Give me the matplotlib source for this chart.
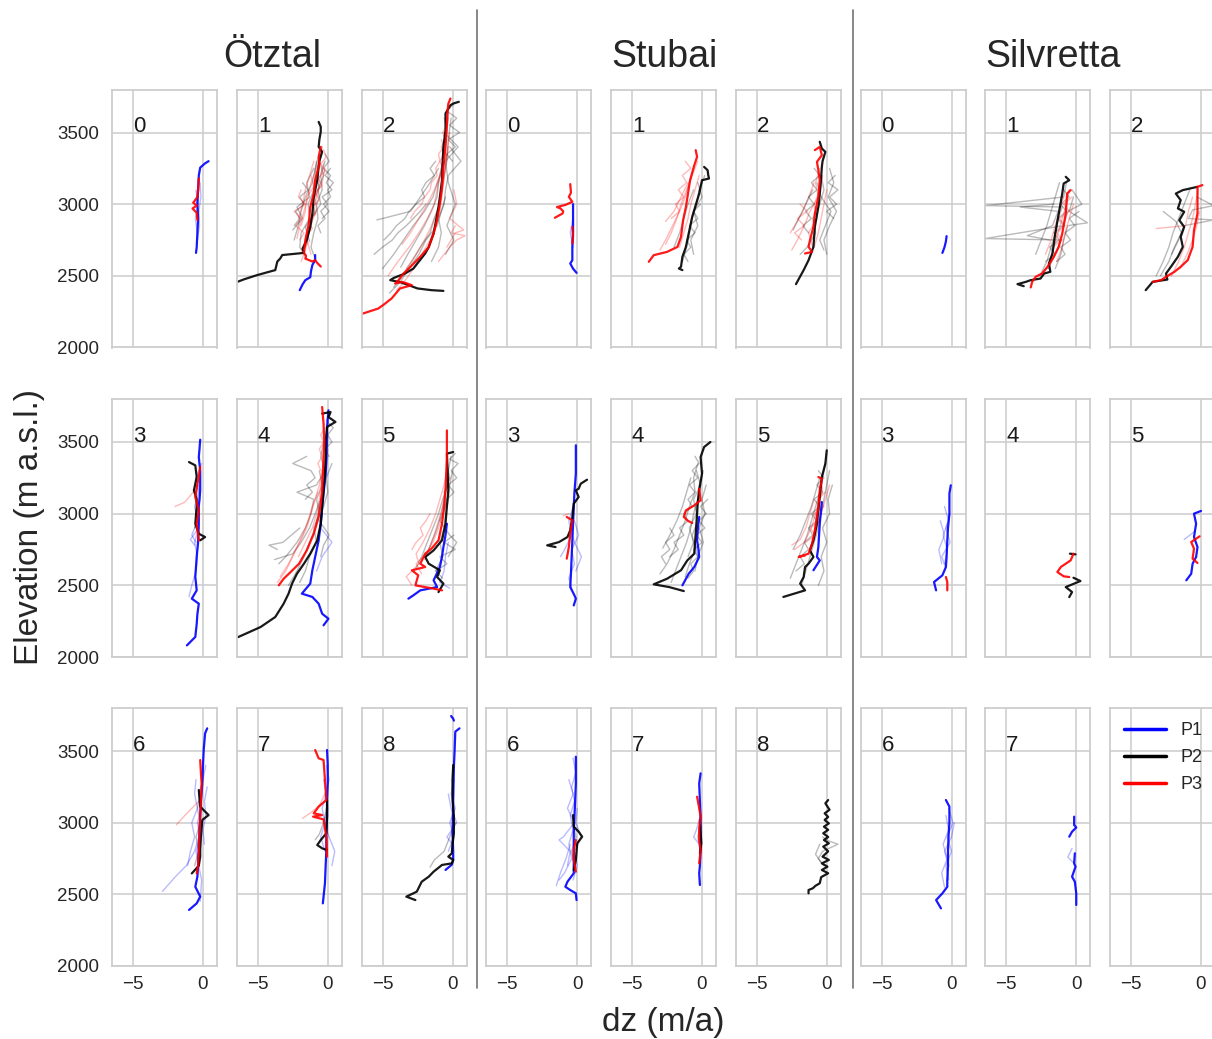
import numpy as np
import matplotlib
matplotlib.use("Agg")
import matplotlib.pyplot as plt
import seaborn as sns
from matplotlib.lines import Line2D

NAN = np.nan

REGIONS = ["Ötztal", "Stubai", "Silvretta"]
PERIODS = ["P1", "P2", "P3"]
PERIOD_COLORS = {"P1": "blue", "P2": "black", "P3": "red"}
Y_TICKS = [2000, 2500, 3000, 3500]
X_TICKS = [-5, 0]

# median profiles per panel: list of (elevation, dz) pairs
OTZTAL_MEDIAN = {
    0: {
        "P1": [(3300, 0.4), (3285, 0.15), (3255, -0.2), (3200, -0.3), (3100, -0.35), (3000, -0.4), (2900, -0.35), (2800, -0.4), (2700, -0.45), (2660, -0.5)],
        "P3": [(3180, -0.3), (3100, -0.35), (3050, -0.4), (3010, -0.7), (2990, -0.45), (2970, -0.75), (2940, -0.45), (2890, -0.4)],
    },
    1: {
        "P1": [(2645, -0.9), (2610, -0.9), (2575, -1.1), (2530, -1.2), (2490, -1.25), (2470, -1.6), (2440, -1.8), (2400, -2.0)],
        "P2": [(3574, -0.65), (3540, -0.5), (3505, -0.5), (3450, -0.6), (3400, -0.65), (3365, -0.4), (3300, -0.6), (3260, -0.65), (3167, -0.75), (3050, -1.0), (2935, -1.1), (2840, -1.25), (2750, -1.5), (2690, -1.8), (2660, -1.7), (2645, -3.25), (2620, -3.4), (2600, -3.6), (2540, -3.75), (2505, -5.05), (2475, -6.0), (2460, -6.4)],
        "P3": [(3400, -0.5), (3330, -0.65), (3280, -0.6), (3167, -0.9), (3075, -1.0), (2980, -1.25), (2865, -1.35), (2750, -1.6), (2660, -1.7), (2640, -1.55), (2620, -1.6), (2600, -1.1), (2610, -0.9), (2590, -0.75), (2565, -0.5)],
    },
    2: {
        "P2": [(3714, 0.45), (3702, 0.05), (3690, -0.15), (3633, -0.5), (3516, -0.5), (3400, -0.65), (3300, -0.7), (3167, -0.75), (3050, -0.9), (2980, -1.0), (2900, -1.15), (2795, -1.35), (2700, -1.7), (2656, -1.95), (2600, -2.4), (2550, -2.8), (2516, -3.4), (2485, -4.2), (2470, -4.45), (2455, -3.7), (2430, -3.0), (2412, -2.5), (2400, -1.5), (2395, -0.65)],
        "P3": [(3737, -0.15), (3700, -0.3), (3650, -0.35), (3563, -0.4), (3400, -0.5), (3260, -0.65), (3120, -0.75), (3005, -0.9), (2890, -1.1), (2795, -1.35), (2700, -1.7), (2633, -2.3), (2563, -3.0), (2516, -3.5), (2470, -3.85), (2446, -4.1), (2458, -3.6), (2435, -2.9), (2412, -3.75), (2342, -4.35), (2300, -4.9), (2272, -5.3), (2237, -6.4)],
    },
    3: {
        "P1": [(3516, -0.2), (3450, -0.25), (3395, -0.3), (3300, -0.2), (3160, -0.2), (3050, -0.3), (2930, -0.3), (2800, -0.35), (2700, -0.45), (2560, -0.55), (2465, -0.45), (2407, -0.8), (2372, -0.3), (2300, -0.4), (2230, -0.45), (2140, -0.55), (2081, -1.15)],
        "P2": [(3360, -1.0), (3337, -0.55), (3256, -0.45), (3163, -0.65), (3100, -0.45), (3047, -0.45), (2930, -0.55), (2860, -0.3), (2837, 0.15), (2814, -0.2)],
        "P3": [(3326, -0.2), (3256, -0.3), (3180, -0.45), (3116, -0.55), (3023, -0.3), (2930, -0.45), (2814, -0.3)],
    },
    4: {
        "P1": [(3721, 0.05), (3600, -0.05), (3512, -0.05), (3400, -0.1), (3279, -0.15), (3150, -0.3), (3047, -0.4), (2930, -0.5), (2814, -0.65), (2698, -0.9), (2605, -1.1), (2512, -1.25), (2442, -1.85), (2419, -1.1), (2372, -0.65), (2302, -0.4), (2267, 0.05), (2221, -0.3)],
        "P2": [(3698, -0.4), (3709, 0.2), (3674, 0.05), (3640, 0.55), (3605, -0.05), (3500, -0.15), (3395, -0.15), (3280, -0.2), (3163, -0.3), (3050, -0.4), (2930, -0.5), (2814, -0.75), (2721, -1.25), (2651, -1.7), (2581, -2.2), (2512, -2.55), (2442, -2.8), (2372, -3.15), (2279, -3.75), (2209, -4.8), (2139, -6.4)],
        "P3": [(3744, -0.4), (3628, -0.3), (3500, -0.25), (3395, -0.3), (3280, -0.35), (3163, -0.4), (3070, -0.5), (2977, -0.65), (2860, -1.0), (2744, -1.5), (2651, -2.05), (2593, -2.65), (2546, -3.15), (2500, -3.5)],
    },
    5: {
        "P1": [(2930, -0.4), (2850, -0.5), (2767, -0.65), (2700, -0.75), (2628, -0.9), (2535, -1.35), (2488, -1.1), (2465, -2.3), (2430, -2.8), (2407, -3.15)],
        "P2": [(3430, 0.05), (3419, -0.4), (3300, -0.35), (3163, -0.3), (3050, -0.4), (2930, -0.5), (2814, -0.75), (2744, -1.35), (2698, -1.95), (2651, -1.7), (2605, -0.9), (2558, -1.1), (2512, -0.65), (2453, -1.0)],
        "P3": [(3581, -0.4), (3500, -0.4), (3395, -0.4), (3280, -0.45), (3163, -0.5), (3050, -0.6), (2930, -0.75), (2814, -1.0), (2756, -1.5), (2721, -1.95), (2651, -2.3), (2628, -1.95), (2605, -2.9), (2570, -2.45), (2500, -2.65), (2477, -1.35), (2465, -0.75)],
    },
    6: {
        "P1": [(3658, 0.3), (3623, 0.15), (3507, 0.05), (3400, 0.0), (3274, -0.05), (3150, -0.15), (3042, -0.2), (2930, -0.25), (2809, -0.3), (2700, -0.35), (2623, -0.4), (2553, -0.55), (2484, -0.2), (2437, -0.45), (2391, -1.0)],
        "P2": [(3228, -0.3), (3112, -0.2), (3053, 0.4), (3019, -0.05), (2900, -0.15), (2809, -0.2), (2763, -0.2), (2700, -0.3), (2646, -0.8)],
        "P3": [(3437, -0.2), (3350, -0.15), (3274, -0.1), (3150, -0.15), (3042, -0.2), (2930, -0.25), (2809, -0.3), (2700, -0.35), (2646, -0.45)],
    },
    7: {
        "P1": [(3507, -0.05), (3400, 0.0), (3274, 0.0), (3150, -0.05), (3042, -0.05), (2930, -0.1), (2809, -0.1), (2700, -0.15), (2577, -0.2), (2437, -0.35)],
        "P2": [(3158, -0.05), (3050, -0.05), (2926, -0.1), (2879, -0.5), (2844, -0.75), (2821, -0.4), (2809, -0.05)],
        "P3": [(3507, -0.9), (3449, -0.65), (3437, -0.3), (3300, -0.2), (3158, -0.1), (3112, -0.65), (3065, -1.0), (3053, -0.4), (3042, -1.05), (3023, -0.3), (2900, -0.1), (2763, -0.05)],
    },
    8: {
        "P1": [(3744, -0.1), (3725, 0.05), (3712, 0.1), (3690, NAN), (3658, 0.5), (3635, 0.2), (3500, 0.15), (3391, 0.1), (3158, 0.05), (2926, 0.0), (2800, 0.05), (2740, 0.05), (2707, -0.05), (2670, -0.5)],
        "P2": [(3402, 0.05), (3300, 0.0), (3158, 0.0), (3050, 0.1), (2926, 0.1), (2850, 0.0), (2786, -0.05), (2763, -0.3), (2740, 0.05), (2716, -0.05), (2705, -0.75), (2658, -1.35), (2623, -1.7), (2588, -2.2), (2519, -2.55), (2507, -2.8), (2484, -3.3), (2460, -2.65)],
    },
}

STUBAI_MEDIAN = {
    0: {
        "P1": [(3000, -0.3), (2900, -0.3), (2800, -0.3), (2700, -0.35), (2609, -0.35), (2586, -0.5), (2550, -0.3), (2521, -0.05)],
        "P3": [(3140, -0.5), (3080, -0.45), (3051, -0.6), (3030, -0.45), (3016, -0.35), (2995, -0.85), (2980, -1.45), (2970, -1.2), (2950, -1.0), (2935, -1.05), (2905, -1.6), (2880, NAN), (2842, -0.35), (2780, -0.3), (2726, -0.35)],
    },
    1: {
        "P2": [(3260, 0.15), (3237, 0.4), (3200, 0.45), (3179, 0.5), (3167, 0.0), (3074, -0.2), (2993, -0.45), (2912, -0.7), (2795, -0.95), (2702, -1.15), (2633, -1.4), (2563, -1.5), (2551, -1.65), (2540, -1.4)],
        "P3": [(3377, -0.45), (3330, -0.35), (3272, -0.55), (3167, -0.85), (3074, -1.0), (2981, -1.15), (2888, -1.35), (2772, -1.5), (2702, -1.75), (2667, -2.5), (2644, -3.45), (2598, -3.8)],
    },
    2: {
        "P2": [(3435, -0.5), (3388, -0.35), (3365, -0.1), (3300, -0.3), (3260, -0.35), (3121, -0.45), (2981, -0.6), (2842, -0.85), (2702, -0.95), (2609, -1.3), (2540, -1.65), (2442, -2.2)],
        "P3": [(3377, -0.85), (3400, -0.5), (3342, -0.35), (3295, -0.7), (3237, -0.6), (3167, -0.5), (3051, -0.6), (2935, -0.85), (2842, -0.95), (2749, -1.2), (2702, -1.3), (2667, -1.05), (2656, -1.55)],
    },
    3: {
        "P1": [(3477, -0.1), (3380, -0.1), (3279, -0.1), (3150, -0.2), (3047, -0.25), (2930, -0.3), (2814, -0.35), (2700, -0.4), (2581, -0.45), (2488, -0.5), (2430, -0.2), (2407, -0.1), (2360, -0.25)],
        "P2": [(3237, 0.7), (3209, 0.25), (3174, 0.1), (3163, -0.1), (3116, 0.1), (3070, -0.25), (2977, -0.35), (2884, -0.5), (2837, -0.7), (2802, -1.3), (2779, -2.15), (2767, -1.55)],
        "P3": [(2977, -0.75), (2953, -0.35), (2900, -0.45), (2860, -0.5), (2767, -0.6), (2686, -0.75)],
    },
    4: {
        "P1": [(2977, -0.2), (2900, -0.3), (2814, -0.35), (2750, -0.25), (2698, -0.2), (2628, -0.55), (2581, -0.95), (2500, -1.4)],
        "P2": [(3500, 0.6), (3465, 0.15), (3395, -0.1), (3279, 0.0), (3163, -0.2), (3080, -0.3), (3000, -0.35), (2860, -0.45), (2721, -0.55), (2674, -1.05), (2605, -1.5), (2546, -2.5), (2507, -3.45), (2488, -2.35), (2460, -1.3)],
        "P3": [(3174, -0.2), (3093, -0.1), (3058, -0.55), (3023, -1.15), (2977, -1.3), (2950, -1.0), (2935, -0.7)],
    },
    5: {
        "P1": [(3081, -0.35), (2930, -0.5), (2767, -0.6), (2698, -0.7), (2674, -0.5), (2605, -0.95)],
        "P2": [(3442, 0.0), (3349, -0.1), (3256, -0.35), (3116, -0.5), (2930, -0.7), (2814, -0.95), (2744, -1.2), (2698, -0.95), (2651, -1.3), (2628, -1.55), (2558, -1.65), (2512, -1.9), (2465, -1.55), (2419, -3.1)],
        "P3": [(3256, -0.6), (3244, -0.35), (3163, -0.5), (3047, -0.6), (2884, -0.85), (2791, -1.05), (2721, -1.3), (2698, -2.0), (2709, -1.55)],
    },
    6: {
        "P1": [(3460, -0.1), (3274, -0.1), (3150, -0.15), (3042, -0.2), (2930, -0.25), (2809, -0.25), (2700, -0.25), (2647, -0.25), (2588, -0.7), (2553, -0.85), (2530, -0.5), (2507, -0.1), (2460, -0.05)],
        "P2": [(3053, -0.3), (2972, -0.25), (2937, 0.1), (2902, 0.35), (2856, 0.0), (2740, -0.1), (2670, -0.25)],
        "P3": [(2879, -0.1), (2809, -0.25), (2740, -0.25), (2658, -0.1)],
    },
    7: {
        "P1": [(3344, -0.1), (3274, -0.2), (3150, -0.15), (3042, -0.1), (2930, -0.1), (2809, -0.1), (2700, -0.15), (2647, -0.2), (2565, -0.15)],
        "P2": [(3019, -0.15), (2930, -0.1), (2856, -0.05), (2786, -0.15)],
        "P3": [(3181, -0.35), (3100, -0.2), (3042, -0.1), (2960, -0.2), (2879, -0.2), (2809, -0.1), (2716, -0.2)],
    },
    8: {
        "P2": [(3158, 0.1), (3135, -0.1), (3112, 0.05), (3090, 0.2), (3065, -0.15), (3040, 0.1), (3019, -0.15), (2995, 0.15), (2972, -0.2), (2950, 0.1), (2926, -0.25), (2900, 0.1), (2879, -0.2), (2856, 0.15), (2833, -0.25), (2800, 0.1), (2763, -0.3), (2740, 0.15), (2716, -0.35), (2693, 0.05), (2670, -0.35), (2647, 0.1), (2620, -0.4), (2577, -0.5), (2560, -0.8), (2542, -1.0), (2530, -1.3), (2507, -1.3)],
    },
}

SILVRETTA_MEDIAN = {
    0: {
        "P1": [(2777, -0.35), (2740, -0.4), (2700, -0.5), (2660, -0.65)],
    },
    1: {
        "P2": [(3191, -0.75), (3167, -0.5), (3144, -0.9), (3074, -1.0), (2935, -1.25), (2795, -1.5), (2656, -1.7), (2586, -1.95), (2528, -1.85), (2516, -2.3), (2481, -2.55), (2470, -3.25), (2458, -3.6), (2442, -4.2), (2428, -3.75)],
        "P3": [(3098, -0.4), (3074, -0.65), (2935, -0.75), (2795, -1.0), (2702, -1.25), (2633, -1.6), (2563, -2.05), (2516, -2.45), (2493, -2.9), (2458, -3.15), (2419, -3.25)],
    },
    2: {
        "P2": [(3121, -0.25), (3098, -1.3), (3074, -1.8), (3028, -1.45), (2970, -1.65), (2947, -1.2), (2888, -1.55), (2842, -1.2), (2772, -1.45), (2702, -1.3), (2633, -1.65), (2563, -2.15), (2516, -2.5), (2474, -2.4), (2458, -3.45), (2400, -3.95)],
        "P3": [(3133, 0.1), (3121, -0.25), (3030, -0.25), (2935, -0.25), (2819, -0.5), (2702, -0.6), (2609, -0.95), (2563, -1.45), (2528, -1.9), (2493, -2.5), (2470, -2.85), (2458, -3.45)],
    },
    3: {
        "P1": [(3198, -0.05), (3140, -0.15), (3000, -0.15), (2900, -0.25), (2814, -0.3), (2700, -0.35), (2628, -0.4), (2570, -0.65), (2523, -1.25), (2465, -1.1)],
        "P3": [(2558, -0.4), (2523, -0.3), (2465, -0.3)],
    },
    4: {
        "P2": [(2721, -0.45), (2716, -0.05), (2640, NAN), (2553, -0.2), (2530, 0.3), (2488, -0.75), (2453, -0.3), (2418, -0.5)],
        "P3": [(2721, -0.2), (2674, -0.4), (2628, -1.1), (2593, -1.35), (2563, -0.9), (2558, -0.5)],
    },
    5: {
        "P1": [(3019, 0.0), (3000, -0.5), (2930, -0.35), (2837, -0.5), (2767, -0.25), (2698, -0.35), (2651, -0.6), (2581, -0.7), (2535, -1.05)],
        "P3": [(2842, -0.1), (2802, -0.7), (2756, -0.5), (2686, -0.6), (2656, -0.25)],
    },
    6: {
        "P1": [(3158, -0.4), (3112, -0.15), (3000, -0.15), (2926, -0.2), (2800, -0.25), (2693, -0.25), (2600, -0.3), (2553, -0.3), (2507, -0.65), (2460, -1.1), (2402, -0.75)],
    },
    7: {
        "P1": [(3042, -0.15), (2984, -0.15), (2966, 0.0), (2937, -0.3), (2902, -0.5), (2850, NAN), (2786, -0.1), (2716, -0.15), (2693, -0.05), (2623, -0.3), (2588, -0.1), (2507, 0.0), (2426, 0.0)],
    },
    8: {},
}

# individual glacier profiles (thin, transparent): (period, [(elevation, dz), ...])
OTZTAL_THIN = {
    0: [
        ("P1", [(3150, -0.2), (3050, -0.15), (2950, -0.3), (2850, -0.25), (2750, -0.4)]),
        ("P1", [(3100, -0.5), (3000, -0.35), (2900, -0.55), (2800, -0.4)]),
        ("P3", [(3100, -0.3), (3020, -0.5), (2950, -0.3)]),
    ],
    1: [
        ("P2", [(3350, -0.6), (3250, -0.9), (3150, -1.1), (3050, -1.6), (2950, -1.9), (2850, -2.1), (2750, -2.4)]),
        ("P2", [(3300, -0.2), (3200, -0.5), (3100, -0.4), (3000, -0.8), (2900, -0.7), (2800, -1.0), (2700, -1.2), (2620, -0.9)]),
        ("P2", [(3250, -1.0), (3150, -1.5), (3050, -1.3), (2980, -2.2), (2900, -1.8), (2820, -2.5)]),
        ("P2", [(3400, -0.4), (3300, -0.6), (3200, -0.3), (3100, -0.7), (3000, -0.5), (2900, -1.2), (2800, -1.4), (2700, -1.6)]),
        ("P2", [(3200, -0.9), (3100, -1.0), (3000, -1.4), (2900, -1.3), (2800, -1.9), (2700, -2.0), (2620, -1.5)]),
        ("P2", [(3300, -0.8), (3220, -0.9), (3120, -0.6), (3020, -1.1), (2940, -0.9), (2840, -1.6), (2740, -1.3)]),
        ("P2", [(3350, -0.2), (3300, 0.1), (3250, -0.3), (3200, 0.2), (3150, -0.1), (3100, 0.3), (3050, -0.4), (3000, 0.0), (2950, -0.5), (2900, -0.2), (2850, -0.7), (2800, -0.5)]),
        ("P2", [(3150, -1.8), (3100, -1.4), (3050, -2.0), (3000, -1.7), (2950, -2.3), (2900, -2.0), (2850, -2.4)]),
        ("P2", [(3250, 0.2), (3200, -0.2), (3150, 0.4), (3100, 0.0), (3050, 0.2), (3000, -0.3), (2950, 0.1), (2900, -0.4)]),
        ("P3", [(3350, -0.5), (3250, -0.8), (3150, -1.2), (3050, -1.4), (2950, -1.7), (2850, -2.0), (2760, -2.2)]),
        ("P3", [(3280, -0.3), (3180, -0.6), (3080, -0.7), (2980, -1.0), (2880, -1.1), (2780, -1.4), (2680, -1.6), (2600, -1.9)]),
        ("P3", [(3300, -1.0), (3200, -1.3), (3100, -1.6), (3000, -1.8), (2900, -2.1)]),
        ("P3", [(3250, -0.2), (3150, -0.4), (3050, -0.9), (2950, -0.8), (2850, -1.3), (2750, -1.5), (2650, -1.2)]),
        ("P3", [(3200, -1.2), (3120, -1.0), (3050, -1.5), (2950, -1.6), (2850, -1.9)]),
        ("P3", [(3380, -0.3), (3330, -0.1), (3280, -0.5), (3230, -0.2), (3180, -0.7), (3130, -0.4), (3080, -0.9), (3030, -0.6), (2980, -1.1), (2930, -0.9), (2880, -1.4), (2830, -1.1), (2780, -1.6), (2730, -1.4), (2680, -1.8)]),
        ("P3", [(3100, -1.9), (3050, -2.1), (3000, -1.6), (2950, -2.4), (2900, -1.9), (2850, -2.3), (2800, -1.7), (2750, -2.0)]),
    ],
    2: [
        ("P2", [(3650, -0.3), (3500, -0.4), (3350, -0.6), (3200, -0.9), (3050, -1.4), (2950, -2.0), (2850, -2.8), (2750, -3.5), (2650, -4.2), (2550, -5.0)]),
        ("P2", [(3600, -0.1), (3450, -0.3), (3300, -0.4), (3150, -0.7), (3000, -0.9), (2900, -1.3), (2800, -1.6), (2700, -2.3), (2600, -2.9), (2500, -3.6), (2420, -4.2)]),
        ("P2", [(3400, -0.2), (3300, 0.6), (3200, -0.3), (3100, -0.5), (3000, -0.6), (2900, -1.0), (2800, -0.8), (2700, -1.0), (2600, -1.5)]),
        ("P2", [(3250, -1.0), (3150, -1.6), (3050, -2.3), (2950, -3.0), (2890, -5.4)]),
        ("P2", [(3350, -0.4), (3250, -0.7), (3150, -1.0), (3050, -1.1), (2950, -1.5), (2850, -2.0), (2750, -2.6), (2650, -3.2), (2560, -3.7)]),
        ("P2", [(3500, -0.6), (3400, 0.4), (3300, -0.5), (3150, -0.3), (3000, 0.2), (2850, -0.4), (2750, 0.1), (2650, -0.5)]),
        ("P2", [(3050, -0.5), (2950, -0.8), (2850, -1.1), (2750, -1.9), (2650, -2.4), (2550, -3.1), (2450, -3.8), (2380, -4.5)]),
        ("P2", [(3700, 0.1), (3650, -0.4), (3600, 0.3), (3550, -0.2), (3500, 0.5), (3450, -0.3), (3400, 0.2), (3350, -0.4), (3300, 0.0)]),
        ("P2", [(3300, -1.2), (3250, -1.6), (3200, -1.3), (3150, -1.9), (3100, -2.2), (3050, -2.0), (3000, -2.6), (2950, -3.1), (2900, -3.4), (2850, -4.0), (2800, -4.4), (2750, -4.9)]),
        ("P2", [(3000, -1.9), (2950, -2.3), (2900, -2.8), (2850, -3.3), (2800, -3.9), (2750, -4.3), (2700, -5.0), (2650, -5.6)]),
        ("P3", [(3600, -0.3), (3450, -0.5), (3300, -0.7), (3150, -1.0), (3000, -1.3), (2900, -1.8), (2800, -2.4), (2700, -3.1), (2600, -3.9), (2500, -4.6)]),
        ("P3", [(3500, -0.2), (3350, -0.4), (3200, -0.6), (3050, -0.8), (2950, -1.1), (2850, -1.5), (2750, -2.0), (2650, -2.6), (2550, -3.3)]),
        ("P3", [(3300, -0.6), (3200, -0.9), (3100, -1.3), (3000, -1.8), (2900, -2.4), (2800, -3.0), (2720, -3.6)]),
        ("P3", [(3100, 0.1), (3000, 0.3), (2900, -0.2), (2820, 0.8), (2800, 0.2), (2700, -0.4)]),
        ("P3", [(3400, -0.3), (3250, -0.5), (3100, -0.7), (2950, -0.9), (2850, -1.2), (2750, -1.6), (2650, -2.2), (2550, -2.8), (2450, -3.5), (2400, -4.0)]),
        ("P3", [(3450, -0.8), (3400, -0.6), (3350, -1.0), (3300, -0.9), (3250, -1.2), (3200, -1.1), (3150, -1.5), (3100, -1.6), (3050, -2.0), (3000, -2.2), (2950, -2.7), (2900, -3.0)]),
        ("P3", [(2850, 0.2), (2800, -0.1), (2780, 0.9), (2750, 0.3), (2700, -0.2), (2650, -0.6), (2600, -1.0)]),
        ("P3", [(3600, -0.6), (3550, -0.4), (3500, -0.7), (3450, -0.5), (3400, -0.8), (3350, -0.6), (3300, -0.9), (3250, -0.7)]),
    ],
    3: [
        ("P1", [(3350, -0.1), (3250, -0.5), (3150, -0.3), (3050, -0.6), (2950, -0.4), (2850, -0.8), (2800, -0.5)]),
        ("P1", [(3200, -0.3), (3100, -0.2), (3000, -0.5), (2900, -0.3), (2820, -0.9), (2780, -0.6)]),
        ("P1", [(2900, -0.3), (2800, -0.6), (2700, -0.4), (2600, -0.5), (2500, -0.8), (2420, -1.0)]),
        ("P3", [(3250, -0.3), (3150, -0.7), (3080, -1.3), (3050, -2.0)]),
        ("P2", [(3200, -0.4), (3100, -0.5), (3000, -0.3), (2900, -0.6)]),
    ],
    4: [
        ("P2", [(3500, -0.3), (3400, -0.5), (3300, -0.2), (3200, -0.8), (3150, -2.2), (3100, -1.0), (3000, -1.2), (2900, -1.6), (2800, -2.2), (2700, -3.0), (2650, -3.5)]),
        ("P2", [(3450, 0.0), (3300, -0.2), (3150, -0.4), (3000, -0.7), (2900, -0.9), (2800, -1.3), (2700, -1.7), (2600, -2.2), (2500, -2.8)]),
        ("P2", [(3350, 0.3), (3250, -0.1), (3150, 0.0), (3050, -0.3), (2950, -0.6), (2850, 0.1), (2780, -0.3), (2700, -0.5)]),
        ("P2", [(3100, -0.5), (3000, -0.9), (2900, -1.3), (2800, -1.9), (2720, -2.5), (2680, -3.8)]),
        ("P2", [(3300, -0.6), (3200, -0.4), (3100, -0.8), (3000, -0.6), (2900, -1.0), (2800, -0.8), (2700, -1.3), (2600, -1.6), (2520, -2.0)]),
        ("P2", [(3700, 0.2), (3650, -0.1), (3600, 0.4), (3550, 0.0), (3500, 0.3), (3450, -0.2), (3400, 0.1)]),
        ("P2", [(3400, -1.5), (3350, -2.5), (3300, -1.2), (3250, -0.9), (3200, -1.5), (3150, -1.1), (3100, -1.6)]),
        ("P2", [(2900, -2.0), (2850, -2.6), (2800, -3.2), (2780, -4.2), (2750, -3.6)]),
        ("P3", [(3300, -0.4), (3200, -0.6), (3100, -0.9), (3000, -1.2), (2900, -1.5), (2800, -2.0), (2700, -2.5), (2600, -3.0), (2520, -3.6)]),
        ("P3", [(3400, -0.2), (3300, -0.3), (3200, -0.5), (3100, -0.6), (3000, -0.8), (2900, -1.1), (2800, -1.6), (2700, -2.1)]),
        ("P3", [(3150, -0.7), (3050, -1.1), (2950, -1.4), (2850, -1.8), (2750, -2.3), (2650, -2.8), (2560, -3.4)]),
        ("P3", [(3600, -0.2), (3550, -0.5), (3500, -0.3), (3450, -0.6), (3400, -0.4), (3350, -0.7), (3300, -0.5)]),
        ("P1", [(3000, -0.4), (2900, -0.5), (2800, 0.3), (2700, -0.4), (2600, -0.8)]),
        ("P1", [(3400, 0.0), (3300, -0.1), (3200, -0.2), (3100, -0.3)]),
    ],
    5: [
        ("P2", [(3400, -0.1), (3300, -0.3), (3200, -0.4), (3100, -0.6), (3000, -0.8), (2900, -1.1), (2800, -1.5), (2700, -1.9)]),
        ("P2", [(3350, -0.4), (3250, -0.2), (3150, -0.6), (3050, -0.5), (2950, -0.9), (2850, -0.2), (2800, 0.3), (2700, -0.3)]),
        ("P2", [(3200, -0.3), (3100, -0.7), (3000, -1.0), (2900, -1.4), (2800, -1.8), (2700, -2.2), (2620, -2.6)]),
        ("P2", [(3300, 0.0), (3200, -0.2), (3100, -0.3), (3000, -0.5), (2900, -0.6), (2800, -0.9), (2700, -0.7), (2600, -1.2)]),
        ("P2", [(3420, 0.2), (3380, -0.2), (3350, 0.4), (3300, -0.1), (3250, 0.3), (3200, -0.3), (3150, 0.1), (3100, -0.4)]),
        ("P2", [(2850, 0.1), (2800, -0.6), (2750, 0.2), (2700, -0.9), (2650, -0.4), (2600, -1.2), (2550, -0.7)]),
        ("P3", [(3300, -0.4), (3200, -0.6), (3100, -0.9), (3000, -1.2), (2900, -1.6), (2800, -2.1), (2720, -2.6), (2650, -2.4), (2560, -3.3), (2500, -2.9)]),
        ("P3", [(3250, -0.2), (3150, -0.5), (3050, -0.7), (2950, -1.0), (2850, -1.3), (2750, -1.7), (2680, -2.0)]),
        ("P3", [(3100, -0.4), (3000, -0.7), (2900, -1.0), (2800, -1.4), (2720, -1.9), (2650, -2.6), (2580, -2.2)]),
        ("P3", [(3000, -1.6), (2950, -1.9), (2900, -2.3), (2850, -2.1), (2800, -2.6), (2750, -2.9)]),
        ("P1", [(2800, -0.3), (2700, -0.5), (2600, -0.6), (2520, -0.9), (2480, -0.2)]),
    ],
    6: [
        ("P1", [(2900, -0.3), (2800, -0.6), (2700, -1.2), (2620, -2.0), (2520, -2.9)]),
        ("P1", [(3400, 0.2), (3300, 0.0), (3200, -0.3), (3100, -0.1), (3000, -0.4), (2900, -0.2), (2800, -0.5), (2700, -0.3), (2600, -0.1), (2450, -0.2)]),
        ("P1", [(3300, -0.5), (3200, -0.6), (3100, -0.4), (3000, -0.8), (2900, -0.6), (2800, -0.9), (2700, -1.1)]),
        ("P1", [(3250, 0.3), (3150, 0.1), (3050, 0.2), (2950, 0.0), (2850, 0.1)]),
        ("P3", [(3150, -0.3), (3100, -0.8), (3050, -1.3), (2985, -1.9)]),
        ("P2", [(3200, -0.2), (3100, -0.4), (3000, -0.2), (2900, -0.5), (2800, -0.3), (2700, -0.6)]),
    ],
    7: [
        ("P1", [(3400, -0.1), (3300, 0.1), (3200, -0.2), (3100, 0.0), (3000, -0.3), (2900, 0.1), (2800, 0.5), (2700, 0.3)]),
        ("P1", [(3300, -0.3), (3200, -0.1), (3100, -0.4), (3000, -0.2), (2900, -0.5), (2800, -0.2)]),
        ("P3", [(3200, -0.2), (3120, -0.6), (3070, -1.2), (3030, -1.8)]),
        ("P2", [(3100, -0.1), (3000, -0.3), (2920, -0.6), (2880, -0.9)]),
    ],
    8: [
        ("P1", [(3300, 0.1), (3200, -0.1), (3100, 0.2), (3000, -0.2), (2900, 0.1), (2800, -0.3)]),
        ("P1", [(3200, -0.3), (3100, -0.1), (3000, 0.3), (2900, -0.4), (2850, 0.0)]),
        ("P2", [(3000, 0.2), (2900, -0.2), (2800, -0.6), (2740, -1.3), (2690, -1.6)]),
    ],
}

STUBAI_THIN = {
    0: [
        ("P1", [(2900, -0.3), (2800, -0.5), (2700, -0.3)]),
    ],
    1: [
        ("P3", [(3300, -0.3), (3200, -0.7), (3100, -1.1), (3000, -1.5), (2900, -1.8), (2800, -2.2), (2720, -2.6)]),
        ("P3", [(3250, -0.6), (3150, -0.9), (3050, -1.2), (2950, -1.6), (2850, -2.1), (2750, -2.6), (2680, -3.0)]),
        ("P3", [(3200, -0.2), (3100, -0.5), (3000, -0.8), (2900, -1.0), (2800, -1.3), (2700, -1.6)]),
        ("P3", [(3150, -1.0), (3050, -1.5), (2950, -2.0), (2880, -2.6)]),
        ("P3", [(3300, -1.2), (3250, -0.8), (3200, -1.4), (3150, -1.1), (3100, -1.7), (3050, -1.3), (3000, -1.9), (2950, -1.6), (2900, -2.2)]),
        ("P2", [(3200, 0.2), (3100, -0.2), (3000, -0.4), (2900, -0.7), (2800, -0.9), (2700, -1.1), (2600, -1.4)]),
        ("P2", [(3150, -0.3), (3050, 0.0), (2950, -0.6), (2850, -0.3), (2750, -0.8), (2650, -0.6)]),
        ("P2", [(3100, -0.6), (3000, -1.0), (2900, -1.3), (2800, -1.6), (2700, -2.0)]),
        ("P2", [(3000, -0.1), (2950, -0.6), (2900, -0.3), (2850, -0.9), (2800, -0.5), (2750, -1.1), (2700, -0.8), (2650, -1.3), (2600, -1.0)]),
    ],
    2: [
        ("P3", [(3250, -0.5), (3150, -0.8), (3050, -0.6), (2950, -1.2), (2850, -1.6), (2750, -2.1), (2680, -2.5)]),
        ("P3", [(3200, -0.3), (3100, -0.5), (3000, -0.9), (2900, -0.7), (2800, -1.3), (2700, -1.0)]),
        ("P3", [(3150, -0.9), (3050, -1.3), (2950, -1.7), (2850, -2.3), (2800, -2.6)]),
        ("P3", [(3100, 0.0), (3000, -0.2), (2900, -0.4), (2800, -0.6), (2700, -0.9)]),
        ("P3", [(3000, -1.9), (2950, -1.4), (2900, -2.1), (2850, -1.6), (2800, -2.3), (2750, -1.8)]),
        ("P2", [(3250, 0.2), (3150, 0.5), (3050, 0.1), (2950, 0.7), (2850, 0.2), (2750, -0.2), (2650, 0.0)]),
        ("P2", [(3200, -0.4), (3100, -0.2), (3000, -0.5), (2900, -1.0), (2800, -0.8), (2700, -1.4), (2650, -1.9)]),
        ("P2", [(3150, -0.7), (3050, -0.4), (2950, 0.3), (2850, -0.1), (2750, -0.5), (2680, -0.2)]),
        ("P2", [(3100, -1.0), (3000, -1.5), (2900, -2.0), (2820, -2.4)]),
        ("P2", [(3250, -0.9), (3200, -0.5), (3150, -1.1), (3100, -0.7), (3050, -1.3), (3000, -0.9), (2950, -1.5), (2900, -1.1), (2850, -1.7), (2800, -1.3)]),
        ("P2", [(3200, 0.6), (3150, 0.1), (3100, 0.8), (3050, 0.2), (3000, 0.7), (2950, 0.0), (2900, 0.5)]),
    ],
    3: [
        ("P1", [(3050, -0.3), (2950, -0.6), (2850, -0.4), (2750, -0.9), (2700, -1.2)]),
        ("P1", [(2950, -0.2), (2850, 0.1), (2750, -0.4), (2650, -0.2), (2550, -0.6), (2480, -0.4)]),
        ("P1", [(2900, -0.5), (2800, -0.2), (2700, 0.3), (2600, -0.1)]),
        ("P3", [(3000, -0.6), (2985, -1.0)]),
    ],
    4: [
        ("P2", [(3350, -0.3), (3250, -0.6), (3150, -0.5), (3050, -0.9), (2950, -1.2), (2850, -1.6), (2750, -2.0), (2650, -2.5), (2580, -3.0)]),
        ("P2", [(3300, 0.1), (3200, -0.2), (3100, -0.3), (3000, -0.6), (2900, -0.8), (2800, -1.1), (2700, -1.5), (2600, -1.9), (2520, -2.2)]),
        ("P2", [(3250, -0.8), (3150, -1.1), (3050, -1.4), (2950, -1.8), (2850, -2.3), (2760, -2.8)]),
        ("P2", [(3200, 0.3), (3100, 0.0), (3000, 0.2), (2900, -0.2), (2800, 0.1), (2700, -0.3), (2600, -0.5)]),
        ("P2", [(3150, -0.2), (3050, -0.4), (2950, -0.3), (2850, -0.7), (2750, -0.5), (2650, -0.9), (2560, -1.2)]),
        ("P2", [(3300, -0.4), (3200, -0.1), (3100, -0.6), (3000, -0.4), (2900, -0.9), (2800, -0.6), (2700, -1.0)]),
        ("P2", [(3400, -0.5), (3350, -0.2), (3300, -0.7), (3250, -0.3), (3200, -0.9), (3150, -0.5), (3100, -1.0), (3050, -0.7), (3000, -1.3), (2950, -1.0), (2900, -1.6), (2850, -1.3), (2800, -2.0), (2750, -1.7), (2700, -2.3)]),
        ("P2", [(3100, 0.4), (3050, -0.1), (3000, 0.3), (2950, -0.2), (2900, 0.2), (2850, -0.4), (2800, 0.0), (2750, -0.6), (2700, -0.3), (2650, -0.8), (2600, -0.6), (2550, -1.0)]),
        ("P2", [(2900, -2.3), (2850, -2.0), (2800, -2.6), (2750, -2.3), (2700, -2.9), (2650, -2.6)]),
        ("P1", [(2900, -0.2), (2800, -0.5), (2700, -0.3)]),
    ],
    5: [
        ("P2", [(3350, -0.1), (3250, -0.3), (3150, -0.5), (3050, -0.8), (2950, -1.1), (2850, -1.4), (2750, -1.8), (2650, -2.2), (2550, -2.6)]),
        ("P2", [(3300, 0.2), (3200, 0.0), (3100, -0.2), (3000, -0.4), (2900, -0.6), (2800, -0.9), (2700, -1.2), (2600, -1.5), (2500, -1.8)]),
        ("P2", [(3250, -0.5), (3150, -0.8), (3050, -1.1), (2950, -1.5), (2850, -1.9), (2750, -2.4)]),
        ("P2", [(3200, 0.4), (3100, 0.1), (3000, 0.2), (2900, -0.3), (2800, 0.0), (2700, -0.4), (2600, -0.2), (2500, -0.6)]),
        ("P2", [(3300, -0.6), (3250, -0.2), (3200, -0.7), (3150, -0.3), (3100, -0.9), (3050, -0.5), (3000, -1.1), (2950, -0.7), (2900, -1.3), (2850, -1.0), (2800, -1.6), (2750, -1.3), (2700, -1.9), (2650, -1.6), (2600, -2.2)]),
        ("P3", [(3250, -0.4), (3150, -0.3), (3080, -0.6), (3000, -0.8), (2900, -1.1), (2800, -1.6), (2750, -2.3)]),
        ("P3", [(3200, 0.2), (3100, -0.1), (3000, -0.4), (2900, -0.7), (2800, -1.0)]),
        ("P3", [(3100, -0.9), (3000, -1.2), (2900, -1.5), (2820, -1.9), (2780, -2.5)]),
        ("P3", [(3150, -0.1), (3100, -0.6), (3050, -0.2), (3000, -0.9), (2950, -0.5), (2900, -1.2), (2850, -0.8), (2800, -1.5)]),
    ],
    6: [
        ("P1", [(3450, -0.3), (3350, -0.1), (3250, -0.4), (3150, -0.2), (3050, -0.5), (2950, -0.3), (2850, -0.6), (2750, -0.4), (2650, -0.9), (2600, -1.3)]),
        ("P1", [(3300, -0.6), (3200, -0.3), (3100, -0.7), (3000, -0.2), (2900, -1.0), (2880, -1.3), (2800, -0.5), (2700, -0.7)]),
        ("P1", [(3100, 0.0), (3000, -0.1), (2900, 0.3), (2800, -0.2), (2700, 0.0), (2600, -0.3)]),
        ("P1", [(2850, -0.5), (2750, -0.8), (2650, -1.2), (2560, -1.5)]),
        ("P2", [(3000, -0.3), (2900, -0.1), (2800, -0.4), (2700, -0.2)]),
    ],
    7: [
        ("P1", [(3150, -0.2), (3050, -0.1), (2950, -0.4), (2900, -0.6), (2850, -0.2), (2750, -0.1)]),
        ("P2", [(3000, -0.1), (2900, -0.3), (2800, -0.1)]),
    ],
    8: [
        ("P2", [(2900, -0.3), (2870, 0.2), (2850, 0.8), (2800, -0.3), (2750, -0.6), (2700, -0.2)]),
        ("P2", [(2850, -0.5), (2780, -0.8), (2720, -0.4)]),
    ],
}

SILVRETTA_THIN = {
    1: [
        ("P2", [(3150, -0.7), (3050, -0.9), (2990, -6.5), (2980, -1.0), (2900, -1.3), (2800, -1.5), (2700, -1.8), (2600, -2.1), (2500, -2.6)]),
        ("P2", [(3100, -0.3), (3000, 0.4), (2950, -0.6), (2850, -0.9), (2760, -6.5), (2750, -1.1), (2650, -1.5), (2550, -2.0)]),
        ("P2", [(3150, -1.2), (3050, -1.5), (2950, -1.8), (2850, -2.1), (2750, -2.5), (2650, -2.9)]),
        ("P2", [(3050, -0.2), (2950, -0.5), (2870, 0.8), (2850, -0.6), (2750, -0.9), (2650, -1.1), (2550, -1.5)]),
        ("P2", [(3000, -1.6), (2980, -4.0), (2950, -1.3), (2850, -1.7), (2780, -3.5), (2750, -1.9)]),
        ("P2", [(3100, -0.9), (3050, -0.5), (3000, -1.1), (2950, -0.7), (2900, -1.3), (2850, -0.9), (2800, -1.6), (2750, -1.2), (2700, -1.9), (2650, -1.5), (2600, -2.2)]),
        ("P2", [(2950, 0.2), (2900, -0.5), (2850, -0.1), (2800, -0.8), (2750, -0.4), (2700, -1.1), (2650, -0.8), (2600, -1.4)]),
        ("P3", [(3100, -0.5), (3000, -0.7), (2900, -1.0), (2800, -1.3), (2700, -1.6), (2600, -1.9), (2500, -2.4)]),
        ("P3", [(3050, -0.9), (2950, -1.2), (2850, -1.5), (2750, -1.8), (2650, -2.2)]),
        ("P3", [(3000, -0.2), (2900, -0.5), (2800, -0.8), (2700, -1.0), (2600, -1.4)]),
        ("P3", [(3050, -0.3), (3000, -0.9), (2950, -0.5), (2900, -1.2), (2850, -0.8), (2800, -1.4), (2750, -1.0), (2700, -1.7)]),
    ],
    2: [
        ("P2", [(3100, -0.8), (3000, -1.2), (2900, -1.6), (2800, -2.0), (2700, -2.3), (2600, -2.7), (2500, -3.2)]),
        ("P2", [(3050, -0.3), (2990, 0.9), (2960, -0.6), (2900, -0.9), (2890, 0.9), (2850, -1.2), (2750, -1.6), (2650, -2.1)]),
        ("P2", [(2950, -2.7), (2880, -1.8), (2800, -1.4), (2700, -1.9), (2600, -2.3), (2500, -2.9)]),
        ("P3", [(3100, -0.2), (3000, -0.4), (2900, -0.6), (2800, -0.9), (2700, -1.2), (2600, -1.6), (2500, -2.1)]),
        ("P3", [(3050, -0.6), (2950, -0.9), (2850, -1.1), (2830, -3.2)]),
        ("P3", [(2950, -0.1), (2850, -0.3), (2750, -0.6), (2650, -1.0), (2550, -1.5)]),
    ],
    3: [
        ("P1", [(3050, -0.5), (2950, -0.2), (2850, -0.6), (2750, -0.3), (2650, -0.5)]),
        ("P1", [(3000, -0.1), (2900, -0.4), (2800, -0.1), (2700, -0.7), (2620, -0.4)]),
        ("P1", [(2950, -0.8), (2850, -0.5), (2750, -0.9), (2650, -0.7)]),
    ],
    5: [
        ("P1", [(2880, -0.4), (2850, -0.8), (2820, -1.2)]),
    ],
    6: [
        ("P1", [(3100, -0.2), (3000, 0.1), (2900, -0.3), (2800, 0.0), (2700, -0.4), (2600, -0.2)]),
        ("P1", [(3050, -0.4), (2950, -0.2), (2850, -0.6), (2750, -0.3), (2650, -0.7), (2550, -0.5)]),
        ("P1", [(3000, 0.2), (2900, 0.0), (2800, -0.5), (2700, -0.2)]),
    ],
    7: [
        ("P1", [(2820, -0.3), (2760, -0.6), (2720, -0.2)]),
    ],
}

MEDIANS = [OTZTAL_MEDIAN, STUBAI_MEDIAN, SILVRETTA_MEDIAN]
THINS = [OTZTAL_THIN, STUBAI_THIN, SILVRETTA_THIN]


def draw_profile(ax, points, color, lw, alpha):
    z = [p[0] for p in points]
    dz = [p[1] for p in points]
    ax.plot(dz, z, color=color, lw=lw, alpha=alpha)


sns.set_theme(style="whitegrid")
plt.rcParams["font.family"] = ["Liberation Sans", "DejaVu Sans"]
plt.rcParams["axes.edgecolor"] = "0.8"
plt.rcParams["axes.linewidth"] = 1.25

W, H = 1212, 1039
fig = plt.figure(figsize=(W / 100, H / 100), dpi=100)

col_left = [112 + i * 124.75 for i in range(9)]
row_top = [89.5, 399, 708]
ax_w, ax_h = 105, 258

legend_ax = None
for r in range(3):
    for p in range(9):
        row, col = p // 3, r * 3 + p % 3
        ax = fig.add_axes([col_left[col] / W, 1 - (row_top[row] + ax_h) / H, ax_w / W, ax_h / H])
        ax.set_xlim(-6.5, 1)
        ax.set_ylim(2000, 3800)
        ax.set_xticks(X_TICKS)
        ax.set_yticks(Y_TICKS)
        ax.grid(True, color="0.8", lw=1.1)
        ax.tick_params(axis="y", labelsize=13.5, pad=9, length=0, labelcolor="0.15")
        ax.tick_params(axis="x", labelsize=13.5, pad=7, length=0, labelcolor="0.15")
        if col != 0:
            ax.tick_params(axis="y", labelleft=False)
        if row != 2:
            ax.tick_params(axis="x", labelbottom=False)
        ax.set_xticklabels(["\u22125", "0"])

        for period, pts in THINS[r].get(p, []):
            draw_profile(ax, pts, PERIOD_COLORS[period], 1.0, 0.27)
        for period in PERIODS:
            pts = MEDIANS[r].get(p, {}).get(period)
            if pts:
                draw_profile(ax, pts, PERIOD_COLORS[period], 1.6, 0.9)

        if r == 2 and p == 8:
            legend_ax = ax
        else:
            ax.text(-5, 3500, str(p), fontsize=16, color="0.1", ha="left", va="baseline")

handles = [Line2D([0], [0], color=PERIOD_COLORS[k], lw=2.5) for k in PERIODS]
legend_ax.legend(handles, PERIODS, loc="upper left", bbox_to_anchor=(0.0, 1.0),
                 frameon=False, fontsize=13, handlelength=2.3, borderaxespad=0.5,
                 labelspacing=0.55, handletextpad=0.8, borderpad=0.3)

title_x = [272, 664, 1053]
for name, x in zip(REGIONS, title_x):
    fig.text(x / W, 1 - 67 / H, name, fontsize=27, color="0.15", ha="center", va="baseline")

for x in [477, 853]:
    fig.add_artist(Line2D([x / W, x / W], [1 - 10 / H, 1 - 988 / H], color="0.45", lw=1.2))

fig.text(30 / W, 1 - 527 / H, "Elevation (m a.s.l.)", fontsize=24, color="0.15",
         rotation=90, ha="center", va="center")
fig.text(663 / W, 1 - 1031 / H, "dz (m/a)", fontsize=24, color="0.15", ha="center", va="baseline")

fig.savefig("out.png", dpi=100)
